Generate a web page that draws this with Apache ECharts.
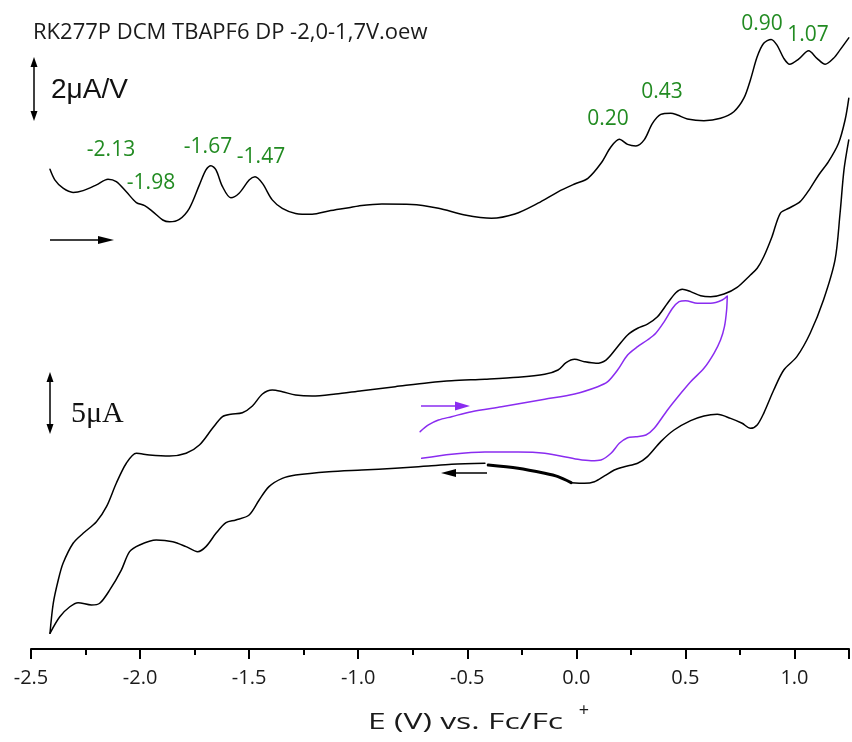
<!DOCTYPE html>
<html>
<head>
<meta charset="utf-8">
<script src="https://cdn.jsdelivr.net/npm/echarts@6/dist/echarts.min.js"></script>
<style>
html,body{margin:0;padding:0;background:#fff;}
#chart{width:852px;height:742px;}
</style>
</head>
<body>
<div id="chart"></div>
<script>
// ---- Data (E in V vs Fc/Fc+, currents in µA, DPV in µA/V with offset) ----
const chartTitle = 'RK277P DCM TBAPF6 DP -2,0-1,7V.oew';
const peakLabels = ['-2.13', '-1.98', '-1.67', '-1.47', '0.20', '0.43', '0.90', '1.07'];

// Differential pulse voltammogram (upper trace)
const dpvE = [-2.413,-2.390,-2.353,-2.307,-2.261,-2.200,-2.147,-2.109,-2.063,-2.017,-1.979,-1.942,-1.896,-1.865,-1.820,-1.774,-1.728,-1.698,-1.675,-1.652,-1.622,-1.584,-1.546,-1.500,-1.473,-1.439,-1.394,-1.348,-1.287,-1.211,-1.135,-1.043,-0.998,-0.891,-0.754,-0.632,-0.511,-0.389,-0.282,-0.176,-0.084,-0.008,0.053,0.113,0.159,0.197,0.235,0.273,0.311,0.349,0.387,0.433,0.463,0.509,0.585,0.661,0.722,0.768,0.798,0.829,0.859,0.893,0.920,0.951,0.978,1.019,1.065,1.103,1.141,1.179,1.209,1.249];
const dpvI = [1.49,1.13,0.86,0.72,0.78,0.97,1.16,1.08,0.74,0.38,0.28,0.08,-0.20,-0.26,-0.18,0.19,0.97,1.47,1.61,1.47,0.91,0.54,0.69,1.13,1.24,1.02,0.47,0.19,0.02,-0.01,0.10,0.21,0.27,0.33,0.32,0.19,-0.03,-0.14,0,0.36,0.74,1.00,1.19,1.69,2.24,2.49,2.32,2.27,2.47,3.02,3.32,3.36,3.30,3.17,3.11,3.19,3.41,3.86,4.47,5.24,5.69,5.82,5.63,5.19,4.99,5.16,5.44,5.19,4.99,5.19,5.47,5.87];

// Cyclic voltammogram, full window: cathodic sweep (-0.42 -> -2.41 V)
const cvCathE = [-0.419,-0.572,-0.678,-0.724,-0.830,-0.983,-1.135,-1.287,-1.348,-1.409,-1.454,-1.500,-1.561,-1.606,-1.652,-1.698,-1.736,-1.789,-1.850,-1.926,-2.002,-2.048,-2.086,-2.139,-2.185,-2.223,-2.284,-2.322,-2.368,-2.413];
const cvCathI = [0.48,0.39,0.25,0.19,0.06,-0.08,-0.22,-0.50,-0.78,-1.47,-2.58,-3.83,-4.25,-4.47,-5.36,-6.47,-6.89,-6.47,-6.06,-5.92,-6.33,-6.89,-8.42,-10.08,-11.19,-11.33,-11.14,-11.48,-12.31,-13.69];
// anodic sweep (-2.41 -> +1.25 V)
const cvAnE = [-2.413,-2.398,-2.375,-2.353,-2.307,-2.261,-2.200,-2.154,-2.109,-2.063,-2.017,-1.957,-1.865,-1.789,-1.728,-1.668,-1.622,-1.584,-1.531,-1.485,-1.439,-1.394,-1.348,-1.287,-1.211,-1.104,-0.983,-0.830,-0.678,-0.572,-0.419,-0.267,-0.145,-0.084,-0.047,-0.008,0.037,0.090,0.136,0.189,0.235,0.281,0.326,0.372,0.418,0.456,0.486,0.524,0.570,0.616,0.677,0.737,0.798,0.829,0.859,0.897,0.935,0.974,1.026,1.072,1.111,1.156,1.202,1.232,1.249];
const cvAnI = [-13.69,-11.19,-9.25,-7.86,-6.19,-5.36,-4.39,-3.14,-1.19,0.48,1.31,1.17,1.08,1.31,2.00,3.39,4.36,4.56,4.69,5.25,6.25,6.58,6.44,6.17,6.08,6.25,6.53,6.86,7.19,7.36,7.48,7.64,7.89,8.25,8.86,9.14,8.94,8.81,9.08,10.19,11.17,11.73,12.08,12.69,13.81,14.69,14.98,14.78,14.44,14.36,14.58,15.14,16.17,16.73,17.69,19.36,21.31,21.73,22.28,23.39,24.50,25.61,27.14,29.08,30.89];
// return sweep (+1.25 -> -0.02 V)
const cvRetE = [1.249,1.227,1.209,1.186,1.133,1.072,1.011,0.951,0.905,0.859,0.829,0.798,0.760,0.707,0.646,0.585,0.524,0.448,0.387,0.326,0.281,0.220,0.174,0.129,0.083,0.037,-0.024];
const cvRetI = [27.42,24.92,21.31,17.42,14.08,11.31,9.36,8.25,6.58,4.64,3.67,3.39,3.81,4.22,4.56,4.42,4.03,3.25,2.28,1.03,0.48,0.19,-0.08,-0.58,-1.06,-1.19,-1.14];
// overlapping start/end segment (drawn bold)
const cvEndE = [-0.024,-0.084,-0.145,-0.267,-0.404];
const cvEndI = [-1.14,-0.64,-0.36,0.06,0.33];

// Cyclic voltammogram, narrow window (-0.72 -> 0.69 V), purple
const cvNarrowE = [-0.716,-0.678,-0.632,-0.572,-0.480,-0.343,-0.145,-0.008,0.098,0.144,0.189,0.235,0.281,0.326,0.364,0.403,0.441,0.471,0.501,0.555,0.616,0.669,0.692,0.689,0.679,0.661,0.631,0.585,0.524,0.479,0.418,0.357,0.319,0.273,0.235,0.197,0.159,0.113,0.068,0.007,-0.145,-0.267,-0.419,-0.572,-0.709];
const cvNarrowI = [3.11,3.67,4.08,4.36,4.78,5.19,5.81,6.25,6.86,7.28,8.25,9.50,10.19,10.75,11.31,12.28,13.39,13.94,14.03,13.81,13.81,14.08,14.42,13.25,11.86,10.75,9.64,8.39,7.28,6.31,4.92,3.39,2.83,2.69,2.61,2.14,1.31,0.75,0.69,0.81,1.31,1.42,1.42,1.23,0.89];

// ---- Build ----
const zip = (a, b) => a.map((v, i) => [v, b[i]]);
const chart = echarts.init(document.getElementById('chart'), null, {renderer: 'canvas'});

const BLACK = '#000000';
const PURPLE = '#8a2cf0';
const GREEN = '#228b22';
const baseLine = (name, data, yIdx, color, width) => ({
  name, type: 'line', data, xAxisIndex: 0, yAxisIndex: yIdx,
  symbol: 'none', smooth: 0.3, clip: true, silent: true,
  lineStyle: {color, width, join: 'round', cap: 'round'}
});

function arrowHead(tipX, tipY, dir, len, half, color) {
  let pts;
  if (dir === 'r') pts = [[tipX, tipY], [tipX - len, tipY - half], [tipX - len, tipY + half]];
  if (dir === 'l') pts = [[tipX, tipY], [tipX + len, tipY - half], [tipX + len, tipY + half]];
  if (dir === 'u') pts = [[tipX, tipY], [tipX - half, tipY + len], [tipX + half, tipY + len]];
  if (dir === 'd') pts = [[tipX, tipY], [tipX - half, tipY - len], [tipX + half, tipY - len]];
  return {type: 'polygon', shape: {points: pts}, style: {fill: color}, silent: true};
}
function hLine(x1, x2, y, color, w) {
  return {type: 'line', shape: {x1, y1: y, x2, y2: y}, style: {stroke: color, lineWidth: w}, silent: true};
}
function vLine(x, y1, y2, color, w) {
  return {type: 'line', shape: {x1: x, y1, x2: x, y2}, style: {stroke: color, lineWidth: w}, silent: true};
}
function txt(x, y, text, font, color, align, sx) {
  const el = {type: 'text', silent: true, x, y, style: {x: 0, y: 0, text, font, fill: color, align: align || 'center', verticalAlign: 'middle'}};
  if (sx) el.scaleX = sx;
  return el;
}

const peakPos = [[111,150],[151,183],[208,147],[261,157],[608,119],[662,92],[762,24],[808,35]];

const graphics = [
  txt(33, 33, chartTitle, '22px "Open Sans"', '#1a1a1a', 'left'),
  // 2 µA/V scale bar
  vLine(34, 62, 116, BLACK, 1.5), arrowHead(34, 57, 'u', 10, 3.5, BLACK), arrowHead(34, 121, 'd', 10, 3.5, BLACK),
  txt(51, 90, '2\u03bcA/V', '28px "Liberation Sans"', '#111', 'left'),
  // 5 µA scale bar
  vLine(50, 377, 429, BLACK, 1.5), arrowHead(50, 372, 'u', 10, 3.5, BLACK), arrowHead(50, 434, 'd', 10, 3.5, BLACK),
  txt(71, 414, '5\u03bcA', '30px "Liberation Serif"', '#111', 'left'),
  // sweep direction arrows
  hLine(50, 104, 240, BLACK, 1.5), arrowHead(114, 240, 'r', 16, 4, BLACK),
  hLine(421, 458, 406, PURPLE, 1.5), arrowHead(470, 406, 'r', 15, 4.5, PURPLE),
  hLine(452, 487, 473, BLACK, 1.5), arrowHead(441, 473, 'l', 15, 4, BLACK),
  // x-axis title
  txt(368, 723, 'E (V) vs. Fc/Fc', '22px "Open Sans"', '#1a1a1a', 'left', 1.45),
  txt(584, 711, '+', '18px "Open Sans"', '#1a1a1a', 'center')
];
peakLabels.forEach((t, i) => graphics.push(txt(peakPos[i][0], peakPos[i][1], t, '21px "Open Sans"', GREEN, 'center')));

const option = {
  animation: false,
  backgroundColor: '#ffffff',
  grid: {left: 31, right: 0, top: 19, bottom: 93, containLabel: false},
  xAxis: [
    {
      type: 'value', min: -2.5, max: 1.25, interval: 0.5, position: 'bottom',
      axisLine: {show: true, onZero: false, lineStyle: {color: '#000', width: 2}},
      axisTick: {show: true, inside: false, length: 10, lineStyle: {color: '#000', width: 2}},
      axisLabel: {
        show: true, margin: 19, color: '#1a1a1a', fontSize: 20, fontFamily: 'Open Sans',
        formatter: v => (Math.abs(v * 2 - Math.round(v * 2)) < 1e-6 ? v.toFixed(1) : '')
      },
      splitLine: {show: false}
    },
    {
      type: 'value', min: -2.5, max: 1.25, interval: 0.25, position: 'bottom', offset: 0,
      axisLine: {show: false, onZero: false},
      axisTick: {show: true, inside: false, length: 6, lineStyle: {color: '#000', width: 2}},
      axisLabel: {show: false},
      splitLine: {show: false}
    }
  ],
  yAxis: [
    {type: 'value', min: -15, max: 37.5, show: false, splitLine: {show: false}},
    {type: 'value', min: -14.5, max: 6.5, show: false, splitLine: {show: false}}
  ],
  series: [
    baseLine('DPV', zip(dpvE, dpvI), 1, BLACK, 1.5),
    baseLine('CV cathodic', zip(cvCathE, cvCathI), 0, BLACK, 1.5),
    baseLine('CV anodic', zip(cvAnE, cvAnI), 0, BLACK, 1.5),
    baseLine('CV return', zip(cvRetE, cvRetI), 0, BLACK, 1.5),
    baseLine('CV start/end', zip(cvEndE, cvEndI), 0, BLACK, 3),
    baseLine('CV narrow', zip(cvNarrowE, cvNarrowI), 0, PURPLE, 1.5)
  ],
  graphic: graphics
};
chart.setOption(option);
</script>
</body>
</html>
